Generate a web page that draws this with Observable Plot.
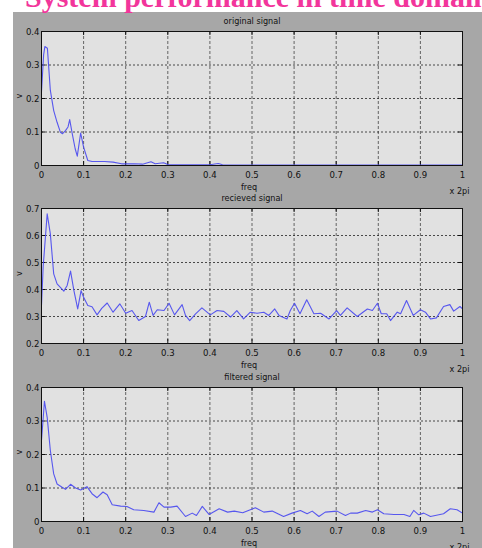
<!DOCTYPE html>
<html>
<head>
<meta charset="utf-8">
<script src="https://cdn.jsdelivr.net/npm/d3@7"></script>
<script src="https://cdn.jsdelivr.net/npm/@observablehq/plot@0.6"></script>
<style>
  html, body { margin: 0; padding: 0; background: #fff; }
  #fig { position: relative; width: 482px; height: 548px; overflow: hidden; background: #fff; }
  #bg { position: absolute; left: 13px; top: 12px; width: 469px; height: 536px; background: #a7a7a7; }
  #title { position: absolute; left: 25px; top: -18px; white-space: nowrap; line-height: 30px;
    font-family: "Liberation Serif", "DejaVu Serif", serif; font-weight: bold; font-size: 30px; color: #f2359b; }
  .panel { position: absolute; left: 0; overflow: visible; }
</style>
</head>
<body>
<div id="fig"><div id="bg"></div><div id="title">System performance in time domain</div></div>
<script>
// ---- data ----
const xTicks = [0, 0.1, 0.2, 0.3, 0.4, 0.5, 0.6, 0.7, 0.8, 0.9, 1];
const yTicksOriginal = [0, 0.1, 0.2, 0.3, 0.4];
const yTicksReceived = [0.2, 0.3, 0.4, 0.5, 0.6, 0.7];
const yTicksFiltered = [0, 0.1, 0.2, 0.3, 0.4];
const titles = ["original signal", "recieved signal", "filtered signal"];
const xLabel = "freq";
const xUnit = "x 2pi";
const yLabel = "v";

const freqOriginal = [0, 0.005, 0.008, 0.014, 0.021, 0.029, 0.037, 0.045, 0.05, 0.057, 0.063, 0.067, 0.073, 0.08, 0.085, 0.093, 0.1, 0.11, 0.12, 0.15, 0.17, 0.19, 0.22, 0.24, 0.26, 0.27, 0.29, 0.3, 0.35, 0.4, 0.42, 0.43, 0.5, 0.6, 0.7, 0.8, 0.9, 1];
const original = [0.22, 0.33, 0.355, 0.35, 0.224, 0.164, 0.129, 0.099, 0.095, 0.104, 0.115, 0.137, 0.095, 0.05, 0.028, 0.097, 0.055, 0.015, 0.012, 0.012, 0.01, 0.005, 0.005, 0.004, 0.011, 0.005, 0.008, 0.003, 0.002, 0.002, 0.006, 0.002, 0.001, 0.001, 0.001, 0.001, 0.001, 0.001];

const freqReceived = [0, 0.004, 0.0135, 0.021, 0.029, 0.037, 0.053, 0.061, 0.069, 0.077, 0.086, 0.094, 0.1, 0.11, 0.12, 0.132, 0.143, 0.156, 0.17, 0.186, 0.2, 0.215, 0.231, 0.247, 0.256, 0.265, 0.275, 0.291, 0.303, 0.316, 0.334, 0.342, 0.352, 0.366, 0.381, 0.401, 0.417, 0.433, 0.449, 0.464, 0.48, 0.496, 0.512, 0.528, 0.54, 0.554, 0.564, 0.583, 0.591, 0.601, 0.614, 0.63, 0.647, 0.663, 0.683, 0.701, 0.71, 0.726, 0.75, 0.774, 0.786, 0.798, 0.807, 0.82, 0.829, 0.845, 0.853, 0.867, 0.883, 0.9, 0.912, 0.924, 0.938, 0.955, 0.97, 0.979, 0.994, 1];
const received = [0.341, 0.485, 0.68, 0.606, 0.458, 0.421, 0.394, 0.415, 0.468, 0.396, 0.328, 0.396, 0.371, 0.341, 0.336, 0.306, 0.33, 0.35, 0.316, 0.347, 0.312, 0.322, 0.285, 0.3, 0.353, 0.304, 0.325, 0.322, 0.349, 0.306, 0.344, 0.304, 0.285, 0.31, 0.332, 0.306, 0.322, 0.319, 0.298, 0.322, 0.291, 0.316, 0.312, 0.316, 0.304, 0.328, 0.304, 0.291, 0.322, 0.349, 0.31, 0.362, 0.31, 0.312, 0.291, 0.322, 0.304, 0.332, 0.3, 0.328, 0.322, 0.349, 0.31, 0.31, 0.285, 0.316, 0.31, 0.359, 0.304, 0.325, 0.316, 0.291, 0.295, 0.337, 0.344, 0.32, 0.337, 0.328];

const freqFiltered = [0, 0.007, 0.0135, 0.021, 0.029, 0.037, 0.049, 0.057, 0.069, 0.081, 0.093, 0.108, 0.12, 0.132, 0.146, 0.156, 0.168, 0.188, 0.203, 0.219, 0.243, 0.267, 0.279, 0.291, 0.307, 0.322, 0.342, 0.358, 0.368, 0.382, 0.398, 0.422, 0.442, 0.458, 0.478, 0.496, 0.508, 0.528, 0.548, 0.575, 0.595, 0.615, 0.631, 0.643, 0.659, 0.674, 0.702, 0.722, 0.734, 0.75, 0.77, 0.786, 0.798, 0.813, 0.837, 0.861, 0.875, 0.884, 0.896, 0.908, 0.924, 0.955, 0.971, 0.987, 1];
const filtered = [0.242, 0.359, 0.311, 0.212, 0.142, 0.112, 0.102, 0.096, 0.111, 0.1, 0.094, 0.104, 0.083, 0.071, 0.088, 0.08, 0.05, 0.046, 0.045, 0.035, 0.033, 0.028, 0.056, 0.043, 0.043, 0.046, 0.015, 0.025, 0.018, 0.045, 0.021, 0.038, 0.028, 0.031, 0.026, 0.035, 0.041, 0.028, 0.031, 0.015, 0.025, 0.033, 0.023, 0.031, 0.015, 0.028, 0.031, 0.018, 0.025, 0.025, 0.033, 0.028, 0.035, 0.023, 0.021, 0.021, 0.015, 0.033, 0.02, 0.025, 0.015, 0.023, 0.038, 0.035, 0.025];

// ---- drawing ----
const FONT = '"Liberation Sans Narrow", "DejaVu Sans Condensed", "Arial Narrow", sans-serif';
const W = 482, ML = 41, MR = 20;
const innerW = W - ML - MR;
const fmt = d3.format("~g");

function panel(xs, ys, yTicks, title, cfg) {
  const data = xs.map((x, i) => ({x, y: ys[i]}));
  const innerH = cfg.height - cfg.mt - cfg.mb;
  const grid = {stroke: "#222", strokeOpacity: 1, strokeWidth: 0.8, strokeDasharray: "2,2"};
  const inner = xTicks.slice(1, -1);
  const innerY = yTicks.slice(1, -1);
  const svg = Plot.plot({
    width: W, height: cfg.height,
    marginLeft: ML, marginRight: MR, marginTop: cfg.mt, marginBottom: cfg.mb,
    style: {fontFamily: FONT, fontStretch: "condensed", fontSize: "9.5px", color: "#111", background: "transparent", overflow: "visible"},
    x: {domain: [0, 1]},
    y: {domain: [yTicks[0], yTicks[yTicks.length - 1]]},
    marks: [
      Plot.frame({fill: "#e1e1e1"}),
      Plot.gridX(inner, {...grid, strokeDasharray: "3,2", stroke: "#444"}),
      Plot.gridY(innerY, grid),
      Plot.tickX(xTicks, {x: d => d, insetTop: innerH - 4, stroke: "#111"}),
      Plot.tickX(xTicks, {x: d => d, insetBottom: innerH - 4, stroke: "#111"}),
      Plot.tickY(yTicks, {y: d => d, insetRight: innerW - 4, stroke: "#111"}),
      Plot.tickY(yTicks, {y: d => d, insetLeft: innerW - 4, stroke: "#111"}),
      Plot.line(data, {x: "x", y: "y", stroke: "#4848f0", strokeWidth: 1.1, strokeOpacity: 0.9}),
      Plot.frame({stroke: "#111", strokeWidth: 1}),
      Plot.axisX({ticks: xTicks, tickFormat: fmt, tickSize: 0, tickPadding: 6, label: null, fontSize: 9.5}),
      Plot.axisY({ticks: yTicks, tickFormat: fmt, tickSize: 0, tickPadding: 2, label: null, fontSize: 9.5}),
      Plot.text([title], {text: d => d, frameAnchor: "top", dy: -14, fontSize: 9, fill: "#111"}),
      Plot.text([xLabel], {text: d => d, frameAnchor: "bottom", dx: -3, dy: 24, fontSize: 9, fill: "#111"}),
      Plot.text([xUnit], {text: d => d, frameAnchor: "bottom-right", dx: 7, dy: 28, fontSize: 9, fill: "#111"}),
      Plot.text([yLabel], {text: d => d, frameAnchor: "left", dx: -22, rotate: -90, fontSize: 9, fill: "#111"})
    ]
  });
  svg.classList.add("panel");
  svg.style.top = cfg.top + "px";
  return svg;
}

const fig = document.getElementById("fig");
fig.appendChild(panel(freqOriginal, original, yTicksOriginal, titles[0], {top: 12, height: 180, mt: 19, mb: 27}));
fig.appendChild(panel(freqReceived, received, yTicksReceived, titles[1], {top: 192, height: 180, mt: 16, mb: 29}));
fig.appendChild(panel(freqFiltered, filtered, yTicksFiltered, titles[2], {top: 371, height: 177, mt: 16, mb: 27}));
</script>
</body>
</html>
